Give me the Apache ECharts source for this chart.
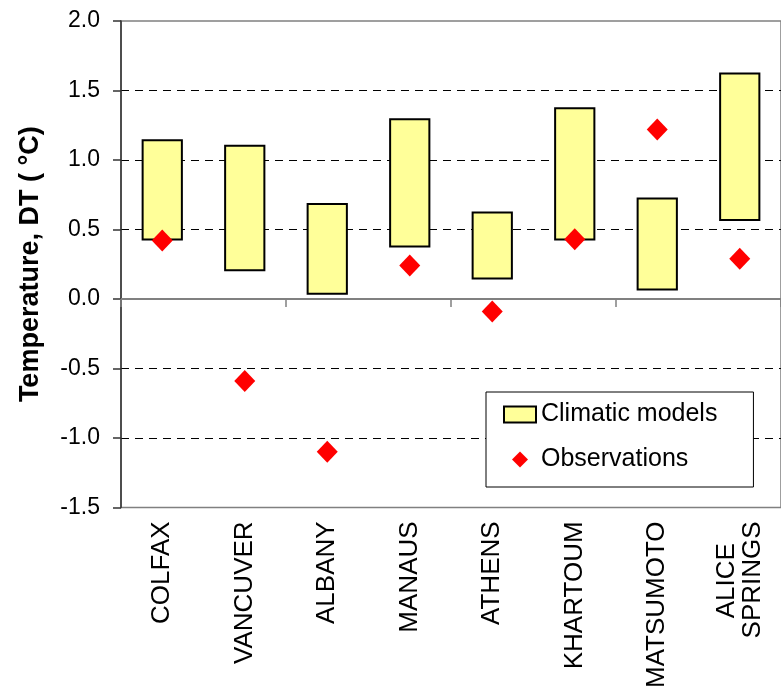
<!DOCTYPE html>
<html lang="en">
<head>
    <meta charset="UTF-8">
    <title>Temperature DT: climatic models vs observations</title>
    <style>
        html, body { margin: 0; padding: 0; background: #fff; }
        #main { width: 781px; height: 691px; }
    </style>
    <script src="https://cdn.jsdelivr.net/npm/echarts@6/dist/echarts.min.js"></script>
</head>
<body>
<div id="main"></div>
<script>
    // data
    const cities = ['COLFAX', 'VANCUVER', 'ALBANY', 'MANAUS', 'ATHENS', 'KHARTOUM', 'MATSUMOTO', 'ALICE SPRINGS']
    const modelLow = [0.42, 0.20, 0.03, 0.37, 0.14, 0.42, 0.06, 0.56]
    const modelHigh = [1.15, 1.11, 0.69, 1.30, 0.63, 1.38, 0.73, 1.63]
    const observations = [0.42, -0.59, -1.10, 0.24, -0.09, 0.43, 1.22, 0.29]
    const yTicks = [-1.5, -1.0, -0.5, 0.0, 0.5, 1.0, 1.5, 2.0]

    const FONT = 'Liberation Sans'
    const modelSpan = modelHigh.map((h, i) => +(h - modelLow[i]).toFixed(3))
    // dashed grid lines everywhere except the frame lines and the zero line
    const gridColors = yTicks.map(v => (v === 0 || v === yTicks[0] || v === yTicks[yTicks.length - 1]) ? 'rgba(0,0,0,0)' : '#000')

    const chart = echarts.init(document.getElementById('main'))
    chart.setOption({
        animation: false,
        textStyle: {fontFamily: FONT, color: '#000'},
        grid: {
            left: 121, right: -1, top: 21, bottom: 182,
            show: true, borderColor: '#808080', borderWidth: 1.5,
            containLabel: false
        },
        legend: {
            left: 486, top: 392,
            orient: 'vertical',
            padding: [10, 36, 15, 17],
            itemGap: 20,
            itemWidth: 32, itemHeight: 16,
            backgroundColor: '#fff',
            borderColor: '#000', borderWidth: 1,
            textStyle: {fontFamily: FONT, fontSize: 25, color: '#000'},
            data: [
                {name: 'Climatic models', icon: 'rect'},
                {name: 'Observations', icon: 'path://M5,0L10,5L5,10L0,5Z'}
            ]
        },
        xAxis: [
            {
                type: 'category',
                data: cities,
                axisLine: {onZero: true, lineStyle: {color: '#808080', width: 2}},
                axisTick: {show: true, length: 8, lineStyle: {color: '#808080', width: 1.5}},
                axisLabel: {show: false}
            },
            {
                type: 'category',
                data: cities,
                position: 'bottom',
                axisLine: {show: false, onZero: false},
                axisTick: {show: false},
                axisLabel: {
                    rotate: 90, margin: 14, interval: 0,
                    padding: [0, 0, 12, 0],
                    fontFamily: FONT, fontSize: 26, color: '#000',
                    formatter: v => v === 'ALICE SPRINGS' ? 'ALICE   \nSPRINGS' : v
                }
            }
        ],
        yAxis: {
            type: 'value',
            min: yTicks[0], max: yTicks[yTicks.length - 1], interval: 0.5,
            name: 'Temperature, DT ( °C)',
            nameLocation: 'middle',
            nameGap: 77,
            nameTextStyle: {fontFamily: FONT, fontSize: 27, fontWeight: 'bold', color: '#000'},
            axisLine: {show: true, lineStyle: {color: '#333', width: 1.5}},
            axisTick: {show: true, length: 8, lineStyle: {color: '#333', width: 1.5}},
            axisLabel: {
                margin: 21, fontFamily: FONT, fontSize: 23, color: '#000',
                formatter: v => v.toFixed(1)
            },
            splitLine: {show: true, lineStyle: {type: [8, 6], color: gridColors, width: 1}}
        },
        series: [
            {
                name: 'base',
                type: 'bar',
                stack: 'model',
                barWidth: '50%',
                silent: true,
                itemStyle: {color: 'rgba(0,0,0,0)'},
                data: modelLow
            },
            {
                name: 'Climatic models',
                type: 'bar',
                stack: 'model',
                barWidth: '50%',
                itemStyle: {color: '#FFFF99', borderColor: '#000', borderWidth: 2},
                data: modelSpan
            },
            {
                name: 'Observations',
                type: 'scatter',
                symbol: 'diamond',
                symbolSize: [21, 22],
                itemStyle: {color: '#FF0000', opacity: 1},
                z: 5,
                data: observations
            }
        ]
    })
</script>
</body>
</html>
